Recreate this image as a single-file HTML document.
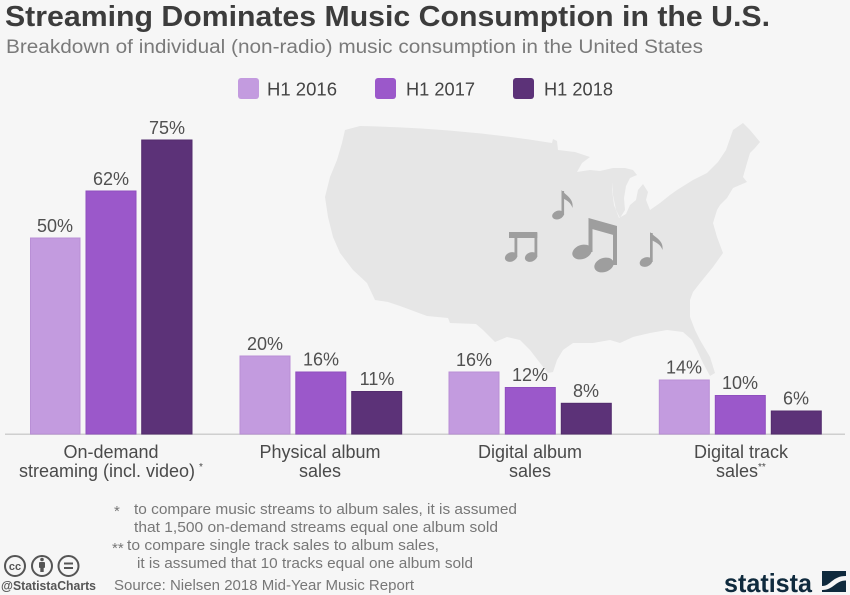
<!DOCTYPE html>
<html>
<head>
<meta charset="utf-8">
<style>
html,body{margin:0;padding:0;background:#f6f6f6;}
svg{display:block;}
text{font-family:"Liberation Sans",sans-serif;}
</style>
</head>
<body>
<svg width="850" height="595" viewBox="0 0 850 595" xmlns="http://www.w3.org/2000/svg">
<rect x="0" y="0" width="850" height="595" fill="#f6f6f6"/>

<!-- Map of US -->
<path fill="#e6e6e6" d="M345,130 L360,126 Q460,128 552,143 L553,139 L557,141 L558,150 L575,152 L590,157 L582,163 L577,172 L590,170 L600,171 L613,168 L625,168 L633,170 L637,175 L630,178 L626,186 L624,198 L625,210 L620,218 L616,210 L613,195 L612,182 L612,190 L614,205 L619,218 L626,214 L630,205 L636,200 L638,190 L643,184 L648,192 L646,200 L650,210 L660,203 L670,195 L677,190 L685,185 L693,180 L707,173 L718,162 L726,150 L733,130 L743,123 L750,130 L760,142 L755,148 L750,153 L747,163 L743,177 L747,182 L740,185 L733,188 L727,198 L720,205 L717,210 L713,223 L717,237 L723,253 L718,260 L713,267 L700,283 L693,292 L690,300 L690,317 L695,330 L700,340 L710,357 L715,373 L710,376 L703,363 L697,350 L692,340 L683,332 L667,330 L650,333 L633,337 L620,343 L610,340 L593,343 L573,343 L563,350 L557,360 L553,372 L548,373 L540,363 L530,350 L520,340 L507,337 L495,342 L483,330 L476,324 L450,323 L448,318 L427,316 L400,306 L388,302 L375,300 L367,283 L353,270 L340,253 L333,237 L328,217 L325,197 L330,177 L337,160 L342,143 Z"/>

<!-- music notes -->
<g fill="#9e9e9e">
  <ellipse cx="558" cy="215" rx="6" ry="4.3" transform="rotate(-20 558 215)"/>
  <rect x="561.5" y="191" width="2.6" height="24"/>
  <path d="M561.5,190 C565,195 574,198 572.5,208 C571,203 567,200 562,198 Z"/>
  <ellipse cx="511" cy="257" rx="6.3" ry="4.6" transform="rotate(-20 511 257)"/>
  <ellipse cx="531" cy="257" rx="6.3" ry="4.6" transform="rotate(-20 531 257)"/>
  <rect x="514.5" y="233" width="2.8" height="24"/>
  <rect x="534.5" y="233" width="2.8" height="24"/>
  <rect x="509" y="232" width="28.3" height="6"/>
  <ellipse cx="582" cy="252" rx="10" ry="7" transform="rotate(-20 582 252)"/>
  <ellipse cx="604" cy="265" rx="10" ry="7" transform="rotate(-20 604 265)"/>
  <rect x="588.5" y="220" width="4" height="32"/>
  <rect x="613" y="228" width="4" height="37"/>
  <polygon points="588.5,218 617,226 617,236 588.5,228"/>
  <ellipse cx="646" cy="262" rx="6.5" ry="4.6" transform="rotate(-20 646 262)"/>
  <rect x="650" y="233" width="2.7" height="29"/>
  <path d="M650,232 C654,237 664,240 662.5,250 C661,245 656,242 651,240 Z"/>
</g>

<!-- Title -->
<text x="5" y="26" font-size="29" font-weight="bold" fill="#3c3c3c" textLength="765" lengthAdjust="spacingAndGlyphs">Streaming Dominates Music Consumption in the U.S.</text>
<text x="6" y="53" font-size="19" fill="#7a7a7a" textLength="697" lengthAdjust="spacingAndGlyphs">Breakdown of individual (non-radio) music consumption in the United States</text>

<!-- Legend -->
<rect x="238" y="78" width="21" height="21" rx="3" fill="#c39bdf"/>
<text x="267" y="95.5" font-size="18" fill="#444" textLength="70" lengthAdjust="spacingAndGlyphs">H1 2016</text>
<rect x="375" y="78" width="21" height="21" rx="3" fill="#9b58ca"/>
<text x="406" y="95.5" font-size="18" fill="#444" textLength="69" lengthAdjust="spacingAndGlyphs">H1 2017</text>
<rect x="513" y="78" width="21" height="21" rx="3" fill="#5c3278"/>
<text x="544" y="95.5" font-size="18" fill="#444" textLength="69" lengthAdjust="spacingAndGlyphs">H1 2018</text>

<!-- baseline -->
<rect x="5" y="433.5" width="840" height="1.5" fill="#cfcfcf"/>

<!-- Bars -->
<g stroke-width="1">
  <rect x="30.5" y="238" width="49.5" height="196" fill="#c39bdf" stroke="#b98fd6"/>
  <rect x="86" y="191" width="50" height="243" fill="#9b58ca" stroke="#8f4fbe"/>
  <rect x="141.7" y="140" width="50.3" height="294" fill="#5c3278" stroke="#532c6d"/>
  <rect x="240" y="356" width="50" height="78" fill="#c39bdf" stroke="#b98fd6"/>
  <rect x="295.8" y="372" width="50" height="62" fill="#9b58ca" stroke="#8f4fbe"/>
  <rect x="351.7" y="391.5" width="50" height="42.5" fill="#5c3278" stroke="#532c6d"/>
  <rect x="449" y="372" width="50" height="62" fill="#c39bdf" stroke="#b98fd6"/>
  <rect x="505.3" y="387.5" width="50" height="46.5" fill="#9b58ca" stroke="#8f4fbe"/>
  <rect x="561.3" y="403.3" width="50" height="30.7" fill="#5c3278" stroke="#532c6d"/>
  <rect x="659.3" y="380" width="50" height="54" fill="#c39bdf" stroke="#b98fd6"/>
  <rect x="715.3" y="395.5" width="50" height="38.5" fill="#9b58ca" stroke="#8f4fbe"/>
  <rect x="771.3" y="411" width="50" height="23" fill="#5c3278" stroke="#532c6d"/>
</g>

<!-- Value labels -->
<g font-size="18" fill="#505050" text-anchor="middle">
  <text x="55" y="232">50%</text>
  <text x="111" y="185">62%</text>
  <text x="167" y="134">75%</text>
  <text x="265" y="350">20%</text>
  <text x="321" y="365.5">16%</text>
  <text x="377" y="385">11%</text>
  <text x="474" y="366">16%</text>
  <text x="530" y="381">12%</text>
  <text x="586" y="397">8%</text>
  <text x="684" y="373.5">14%</text>
  <text x="740" y="389">10%</text>
  <text x="796" y="404.5">6%</text>
</g>

<!-- Category labels -->
<g font-size="18" fill="#4a4a4a" text-anchor="middle">
  <text x="111" y="458">On-demand</text>
  <text x="107" y="477">streaming (incl. video)</text>
  <text x="320" y="458">Physical album</text>
  <text x="320" y="477">sales</text>
  <text x="530" y="458">Digital album</text>
  <text x="530" y="477">sales</text>
  <text x="741" y="458">Digital track</text>
  <text x="737" y="477">sales</text>
</g>
<text x="199" y="470" font-size="10" fill="#4a4a4a">*</text>
<text x="758" y="470" font-size="10" fill="#4a4a4a">**</text>

<!-- Footnotes -->
<g font-size="15" fill="#777">
  <text x="114" y="516">*</text>
  <text x="134" y="514" textLength="383" lengthAdjust="spacingAndGlyphs">to compare music streams to album sales, it is assumed</text>
  <text x="134" y="532" textLength="364" lengthAdjust="spacingAndGlyphs">that 1,500 on-demand streams equal one album sold</text>
  <text x="112" y="553">**</text>
  <text x="127" y="550" textLength="312" lengthAdjust="spacingAndGlyphs">to compare single track sales to album sales,</text>
  <text x="137" y="568" textLength="336" lengthAdjust="spacingAndGlyphs">it is assumed that 10 tracks equal one album sold</text>
  <text x="114" y="590" textLength="300" lengthAdjust="spacingAndGlyphs">Source: Nielsen 2018 Mid-Year Music Report</text>
</g>

<!-- CC icons -->
<g fill="none" stroke="#555" stroke-width="2">
  <circle cx="15" cy="566" r="10"/>
  <circle cx="42" cy="566" r="10"/>
  <circle cx="68.5" cy="566" r="10"/>
</g>
<text x="15" y="570" font-size="11" font-weight="bold" fill="#555" text-anchor="middle">cc</text>
<g fill="#555">
  <circle cx="42" cy="559.5" r="1.8"/>
  <rect x="39" y="562" width="6" height="6" rx="1"/>
  <rect x="40.3" y="567" width="3.4" height="5"/>
  <rect x="64" y="562.5" width="9" height="2"/>
  <rect x="64" y="567" width="9" height="2"/>
</g>
<text x="1" y="590" font-size="13" font-weight="bold" fill="#555" textLength="95" lengthAdjust="spacingAndGlyphs">@StatistaCharts</text>

<!-- statista logo -->
<text x="724" y="592" font-size="26" font-weight="bold" fill="#0f2a3d" textLength="88" lengthAdjust="spacingAndGlyphs">statista</text>
<g>
  <rect x="822" y="571" width="24" height="21" fill="#0f2a3d"/>
  <path d="M822,586 C831,586 832,576 846,576 L846,580.5 C835,580.5 834,590 822,590 Z" fill="#f6f6f6"/>
</g>
</svg>
</body>
</html>
